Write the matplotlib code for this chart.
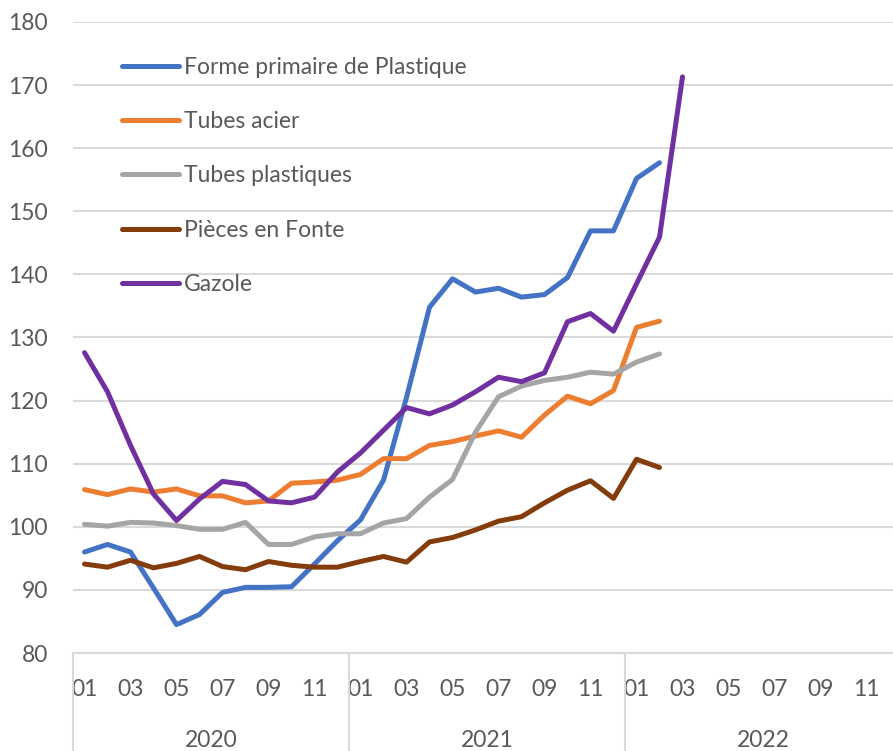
import matplotlib
matplotlib.use("Agg")
import matplotlib.pyplot as plt
from matplotlib.lines import Line2D

plt.rcParams['font.family'] = ['Lato', 'DejaVu Sans']

months = ["01", "02", "03", "04", "05", "06", "07", "08", "09", "10", "11", "12"] * 3
years = ["2020", "2021", "2022"]

names = ["Forme primaire de Plastique", "Tubes acier", "Tubes plastiques",
         "Pièces en Fonte", "Gazole"]
colors = ["#4472C4", "#ED7D31", "#A5A5A5", "#843C0C", "#7030A0"]

plastique = [96.0, 97.2, 96.0, 90.3, 84.5, 86.1, 89.6, 90.4, 90.4, 90.5, 94.1, 97.8,
             101.1, 107.4, 120.5, 134.8, 139.3, 137.2, 137.8, 136.4, 136.8, 139.5,
             146.9, 146.9, 155.2, 157.7]
tubes_acier = [105.9, 105.1, 106.0, 105.5, 106.0, 104.9, 104.9, 103.8, 104.1, 106.9,
               107.1, 107.4, 108.3, 110.8, 110.8, 112.9, 113.5, 114.4, 115.2, 114.2,
               117.7, 120.7, 119.5, 121.6, 131.6, 132.6]
tubes_plast = [100.4, 100.1, 100.7, 100.6, 100.2, 99.6, 99.6, 100.7, 97.2, 97.2, 98.4,
               98.9, 98.9, 100.6, 101.3, 104.7, 107.5, 115.0, 120.6, 122.3, 123.2,
               123.7, 124.5, 124.2, 126.1, 127.4]
fonte = [94.1, 93.6, 94.7, 93.5, 94.2, 95.3, 93.7, 93.2, 94.5, 93.9, 93.6, 93.6,
         94.5, 95.3, 94.4, 97.6, 98.3, 99.5, 100.9, 101.6, 103.8, 105.8, 107.3,
         104.5, 110.7, 109.4]
gazole = [127.6, 121.4, 112.9, 105.2, 101.0, 104.4, 107.2, 106.7, 104.1, 103.8, 104.7,
          108.7, 111.7, 115.3, 118.9, 117.9, 119.3, 121.4, 123.7, 123.0, 124.4, 132.5,
          133.8, 131.0, 138.5, 145.9, 171.3]

series = [plastique, tubes_acier, tubes_plast, fonte, gazole]

W, H = 893, 751
fig = plt.figure(figsize=(W / 100, H / 100), dpi=100)
left, right, bottom, top = 73, 901, 653, 22
ax = fig.add_axes([left / W, (H - bottom) / H, (right - left) / W, (bottom - top) / H])

grid_c = "#D9D9D9"
text_c = "#595959"

for vals, name, c in zip(series, names, colors):
    ax.plot(range(len(vals)), vals, color=c, lw=3.6, label=name,
            solid_capstyle='round', solid_joinstyle='round', zorder=3)

ax.set_xlim(-0.5, len(months) - 0.5)
ax.set_ylim(80, 180)
ax.set_yticks(range(80, 181, 10))
ax.yaxis.grid(True, color=grid_c, lw=1.5, zorder=0)
ax.set_axisbelow(True)
for s in ["top", "right", "left"]:
    ax.spines[s].set_visible(False)
ax.spines["bottom"].set_color(grid_c)
ax.spines["bottom"].set_linewidth(1.5)

ax.tick_params(axis='y', length=0, pad=18, labelsize=16.5, labelcolor=text_c)
ax.set_xticks(range(0, len(months), 2))
ax.set_xticklabels(months[::2])
ax.tick_params(axis='x', length=0, pad=19, labelsize=16.5, labelcolor=text_c)

# year group labels and separators
trans = ax.get_xaxis_transform()
n_year = 12
for k, yr in enumerate(years):
    ax.text(k * n_year + (n_year - 1) / 2, -0.138, yr, transform=trans,
            ha='center', va='center', fontsize=16.5, color=text_c)
for k in range(len(years) + 1):
    xk = k * n_year - 0.5
    ax.add_line(Line2D([xk, xk], [0, -0.2], transform=trans, color=grid_c,
                       lw=1.5, clip_on=False))

leg = ax.legend(loc='upper left', bbox_to_anchor=(122 / W, (H - 57) / H),
                bbox_transform=fig.transFigure, frameon=False, fontsize=16.5,
                handlelength=2.5, handletextpad=0.2, labelspacing=1.45,
                borderpad=0, borderaxespad=0)
for t in leg.get_texts():
    t.set_color(text_c)
for l in leg.get_lines():
    l.set_linewidth(3.6)

fig.savefig("out.png", dpi=100)
